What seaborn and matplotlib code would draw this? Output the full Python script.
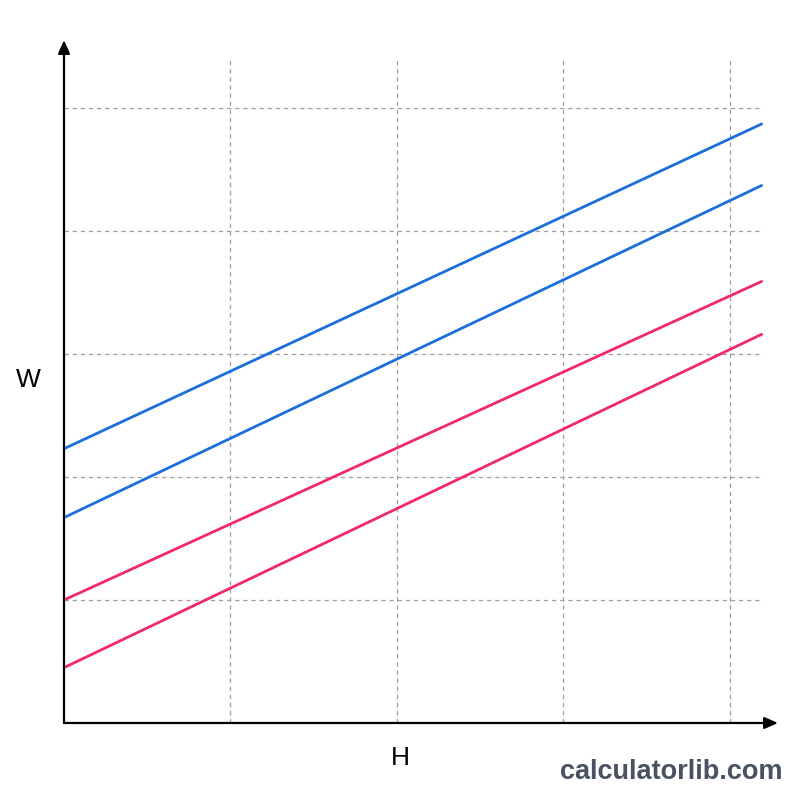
import numpy as np
import pandas as pd
import matplotlib.pyplot as plt
import seaborn as sns

# values (grid units)
h_values = [0.0, 4.19]
series_names = ['upper_1', 'upper_2', 'lower_1', 'lower_2']
upper_1 = [2.23, 4.87]
upper_2 = [1.67, 4.37]
lower_1 = [1.00, 3.59]
lower_2 = [0.45, 3.16]
grid_x = [1, 2, 3, 4]
grid_y = [1, 2, 3, 4, 5]

rows = []
for name, vals in zip(series_names, [upper_1, upper_2, lower_1, lower_2]):
    for h, w in zip(h_values, vals):
        rows.append({'H': h, 'W': w, 'series': name})
df = pd.DataFrame(rows)

sns.set_style('white')
plt.rcParams['font.family'] = ['Liberation Sans', 'DejaVu Sans']
palette = {'upper_1': '#1a6fdc', 'upper_2': '#1a6fdc',
           'lower_1': '#f0286c', 'lower_2': '#f0286c'}

fig = plt.figure(figsize=(8, 8), dpi=100)
ax = fig.add_axes([64 / 800, 77 / 800, (778 - 64) / 800, (723 - 40) / 800])
ax.set_xlim(0, (778 - 64) / 166.5)
ax.set_ylim(0, (723 - 40) / 123)

# dashed grid
ax.vlines(grid_x, 0, (723 - 57) / 123, colors='#a0a0a0', linestyles=(0, (3.5, 3)), linewidth=0.9, zorder=1)
ax.hlines(grid_y, 0, (763 - 64) / 166.5, colors='#a0a0a0', linestyles=(0, (3.5, 3)), linewidth=0.9, zorder=1)

sns.lineplot(data=df, x='H', y='W', hue='series', palette=palette,
             linewidth=2.0, legend=False, ax=ax, zorder=3)

for s in ax.spines.values():
    s.set_visible(False)
ax.set_xticks([])
ax.set_yticks([])
ax.set_xlabel('')
ax.set_ylabel('')

# axes with arrows
ax.annotate('', xy=(1, 0), xytext=(0, 0), xycoords='axes fraction',
            arrowprops=dict(arrowstyle='-|>,head_length=0.8,head_width=0.35', color='black', lw=1.6,
                            shrinkA=0, shrinkB=0), zorder=4)
ax.annotate('', xy=(0, 1), xytext=(0, 0), xycoords='axes fraction',
            arrowprops=dict(arrowstyle='-|>,head_length=0.8,head_width=0.35', color='black', lw=1.6,
                            shrinkA=0, shrinkB=0), zorder=4)

fig.text(28 / 800, 1 - 380 / 800, 'W', fontsize=19, ha='center', va='center', color='black')
fig.text(400 / 800, 1 - 758 / 800, 'H', fontsize=19, ha='center', va='center', color='black')
fig.text(671 / 800, 1 - 772 / 800, 'calculatorlib.com', fontsize=19.5, fontweight='bold',
         color='#4a5262', ha='center', va='center')

plt.savefig('out.png', dpi=100)
